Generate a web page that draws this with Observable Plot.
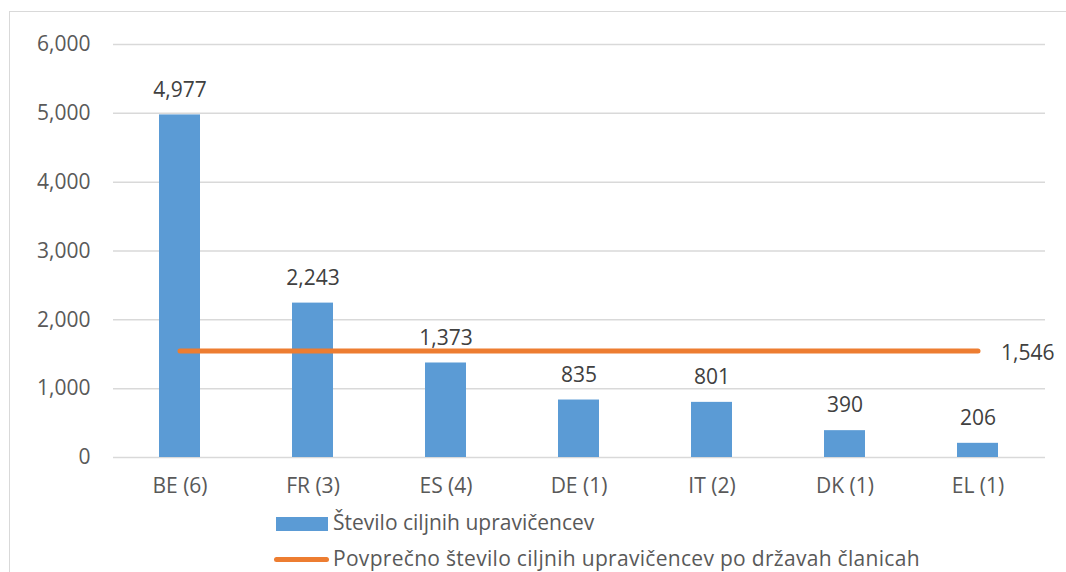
<!DOCTYPE html>
<html>
<head>
<meta charset="utf-8">
<script src="https://cdn.jsdelivr.net/npm/d3@7"></script>
<script src="https://cdn.jsdelivr.net/npm/@observablehq/plot@0.6"></script>
<style>
  html, body { margin: 0; padding: 0; background: #fff; }
  #wrap { position: relative; width: 1066px; height: 572px; overflow: hidden; background: #fff; font-family: "Open Sans", sans-serif; }
  #frame { position: absolute; left: 9px; top: 11px; width: 1100px; height: 600px; border-left: 1.5px solid #d9d9d9; border-top: 1.5px solid #d9d9d9; }
  #chart { position: absolute; left: 0; top: 0; }
  .leg { position: absolute; font-size: 21px; color: #595959; line-height: 1; white-space: nowrap; }
  .sw-bar { position: absolute; left: 276px; top: 517px; width: 52px; height: 14px; background: #5B9BD5; }
  .sw-line { position: absolute; left: 274px; top: 557px; width: 55px; height: 5px; border-radius: 3px; background: #ED7D31; }
</style>
</head>
<body>
<div id="wrap">
  <div id="frame"></div>
  <div id="chart"></div>
  <div class="sw-bar"></div>
  <div class="leg" id="leg1" style="left:333px; top:512px;"></div>
  <div class="sw-line"></div>
  <div class="leg" id="leg2" style="left:333px; top:548px; letter-spacing:0.3px;"></div>
</div>
<script>
const categories = ["BE (6)", "FR (3)", "ES (4)", "DE (1)", "IT (2)", "DK (1)", "EL (1)"];
const values = [4977, 2243, 1373, 835, 801, 390, 206];
const average = 1546;
const yTicks = [0, 1000, 2000, 3000, 4000, 5000, 6000];
const seriesBar = "Število ciljnih upravičencev";
const seriesLine = "Povprečno število ciljnih upravičencev po državah članicah";

const data = categories.map((c, i) => ({cat: c, value: values[i]}));
const fmt = d3.format(",");

const chart = Plot.plot({
  width: 1066,
  height: 572,
  marginLeft: 113,
  marginRight: 21,
  marginTop: 44,
  marginBottom: 115,
  style: {fontFamily: "Open Sans, sans-serif", fontSize: "21px", color: "#595959", background: "transparent"},
  x: {domain: categories, paddingInner: 0.69, paddingOuter: 0.345, label: null},
  y: {domain: [0, 6000], label: null},
  marks: [
    Plot.gridY(yTicks, {stroke: "#d9d9d9", strokeOpacity: 1, strokeWidth: 1.5}),
    Plot.axisY({ticks: yTicks, tickFormat: fmt, tickSize: 0, tickPadding: 23, fontSize: 21, label: null}),
    Plot.axisX({tickSize: 0, tickPadding: 21, fontSize: 21, label: null}),
    Plot.barY(data, {x: "cat", y: "value", fill: "#5B9BD5"}),
    Plot.text(data, {x: "cat", y: "value", text: d => fmt(d.value), dy: -25, fill: "#404040", fontSize: 21}),
    Plot.line(categories, {x: d => d, y: () => average, stroke: "#ED7D31", strokeWidth: 5, strokeLinecap: "round"}),
    Plot.text([categories[categories.length - 1]], {x: d => d, y: () => average, text: () => fmt(average), textAnchor: "start", dx: 23, dy: 2, fill: "#404040", fontSize: 21})
  ]
});
document.getElementById("chart").appendChild(chart);
document.getElementById("leg1").textContent = seriesBar;
document.getElementById("leg2").textContent = seriesLine;
</script>
</body>
</html>
